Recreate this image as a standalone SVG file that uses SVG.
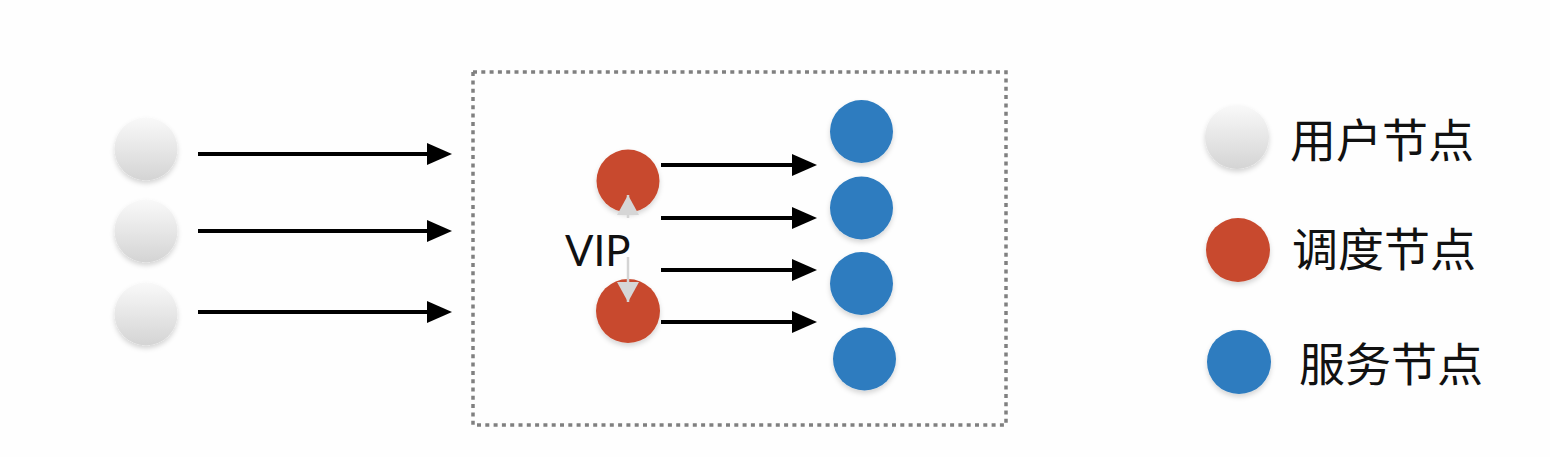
<svg xmlns="http://www.w3.org/2000/svg" width="1550" height="457" viewBox="0 0 1550 457">
<style>
.user{fill:url(#gUser);filter:url(#shadow)}
.sched{fill:#c8492d;filter:url(#shadow)}
.svc{fill:#2d7cbf;filter:url(#shadow)}
.flow{stroke:#000;stroke-width:4;fill:none;marker-end:url(#ah)}
.vip{stroke:#d4d4d4;stroke-width:2.5;fill:none;marker-end:url(#vh)}
.lbl{font-family:"Noto Sans CJK SC","Noto Sans",sans-serif;font-size:46px;fill:#111}
.vipt{font-family:Lato,"Liberation Sans",sans-serif;font-size:42px;fill:#111}
</style>
<defs>
<linearGradient id="gUser" x1="0" y1="0" x2="0" y2="1">
<stop offset="0" stop-color="#f9f9f9"/>
<stop offset="1" stop-color="#d4d4d4"/>
</linearGradient>
<filter id="shadow" x="-30%" y="-30%" width="160%" height="170%">
<feDropShadow dx="0" dy="3" stdDeviation="2.5" flood-color="#000" flood-opacity="0.16"/>
</filter>
<marker id="ah" viewBox="0 0 25 22" refX="15" refY="11" markerWidth="25" markerHeight="22" markerUnits="userSpaceOnUse" orient="auto">
<path d="M0,0 L25,11 L0,22 Z" fill="#000"/>
</marker>
<marker id="vh" viewBox="0 0 20 22" refX="20" refY="11" markerWidth="20" markerHeight="22" markerUnits="userSpaceOnUse" orient="auto">
<path d="M0,0 L20,11 L0,22 Z" fill="#d6d6d6"/>
</marker>
</defs>
<rect width="1550" height="457" fill="#fefefe"/>
<g id="cluster">
<rect x="473" y="72" width="533" height="353" fill="none" stroke="#808080" stroke-width="3.5" stroke-dasharray="4 4.3"/>
</g>
<g id="connectors">
<line class="flow" x1="198" y1="154" x2="442" y2="154"/>
<line class="flow" x1="198" y1="231" x2="442" y2="231"/>
<line class="flow" x1="198" y1="312" x2="442" y2="312"/>
<line class="flow" x1="661" y1="165" x2="807" y2="165"/>
<line class="flow" x1="661" y1="218" x2="807" y2="218"/>
<line class="flow" x1="661" y1="270" x2="807" y2="270"/>
<line class="flow" x1="661" y1="322" x2="807" y2="322"/>
</g>
<g id="user1"><circle class="user" cx="146" cy="149" r="31.5"/></g>
<g id="user2"><circle class="user" cx="146" cy="231" r="31.5"/></g>
<g id="user3"><circle class="user" cx="146" cy="314" r="31.5"/></g>
<g id="sched1"><circle class="sched" cx="628" cy="181" r="31.5"/></g>
<g id="sched2"><circle class="sched" cx="628" cy="311" r="32"/></g>
<g id="vip">
<text class="vipt" x="565" y="266">VIP</text>
</g>
<g id="vip-connectors">
<line class="vip" x1="628" y1="218" x2="628" y2="195"/>
<line class="vip" x1="628" y1="257" x2="628" y2="302"/>
</g>
<g id="svc1"><circle class="svc" cx="861.5" cy="131.5" r="31.5"/></g>
<g id="svc2"><circle class="svc" cx="861.5" cy="208" r="31.5"/></g>
<g id="svc3"><circle class="svc" cx="861.5" cy="283.5" r="31.5"/></g>
<g id="svc4"><circle class="svc" cx="864.5" cy="359" r="31.5"/></g>
<g id="legend-user"><circle class="user" cx="1237" cy="137" r="32"/><text class="lbl" x="1290" y="157">用户节点</text></g>
<g id="legend-sched"><circle class="sched" cx="1238" cy="250" r="32"/><text class="lbl" x="1292" y="266">调度节点</text></g>
<g id="legend-svc"><circle class="svc" cx="1239" cy="362" r="32"/><text class="lbl" x="1299" y="381">服务节点</text></g>
</svg>
